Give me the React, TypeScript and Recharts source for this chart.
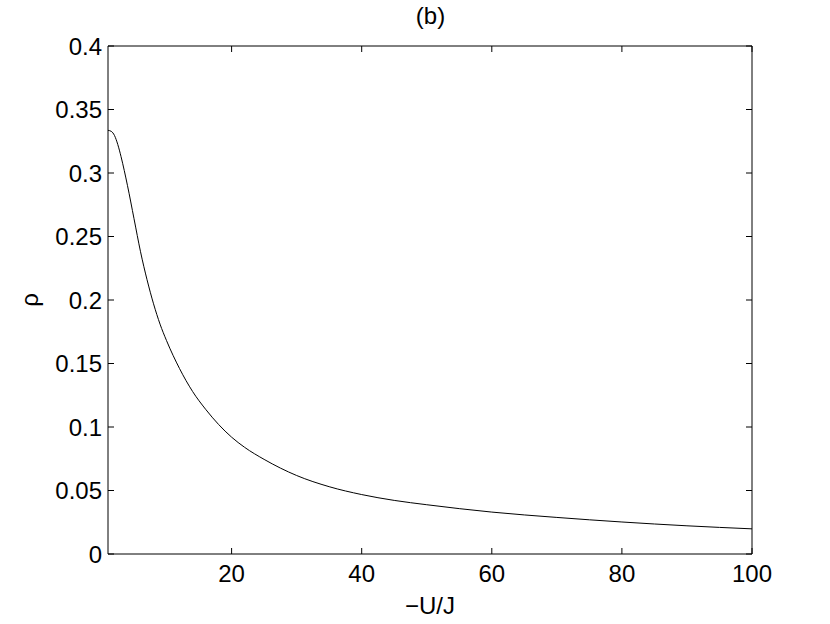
import { LineChart, Line, XAxis, YAxis } from 'recharts'

// -U/J values and the density
const uOverJ = [1, 1.5, 2, 2.5, 3, 3.5, 4, 5, 6, 7, 8, 9, 10, 12, 14, 16, 18, 20, 22, 25, 30, 35, 40, 45, 50, 60, 70, 80, 90, 100]
const rho = [
  0.3336, 0.3328, 0.3295, 0.3225, 0.313, 0.302, 0.29, 0.264, 0.238, 0.216,
  0.197, 0.181, 0.168, 0.146, 0.128, 0.114, 0.102, 0.092, 0.084, 0.0745,
  0.0618, 0.053, 0.0468, 0.0422, 0.0388, 0.033, 0.0288, 0.0252, 0.0222, 0.0198,
]
const xTicks = [20, 40, 60, 80, 100]
const yTicks = [0, 0.05, 0.1, 0.15, 0.2, 0.25, 0.3, 0.35, 0.4]

const data = uOverJ.map((u, i) => ({ u, rho: rho[i] }))

const font = 'Liberation Sans, Arial, Helvetica, sans-serif'
const FS = 24
const TICK = 6
const BOTTOM_GAP = 11
const LEFT_GAP = 6

// ticks point into the plot, matlab style; labels stay outside
// eslint-disable-next-line @typescript-eslint/no-explicit-any
function BottomTick({ x, y, payload }: any) {
  const axisY = y - BOTTOM_GAP
  return (
    <g>
      <line x1={x} x2={x} y1={axisY} y2={axisY - TICK} stroke="#000" />
      <text x={x} y={y} dy="0.72em" textAnchor="middle" fill="#000" fontSize={FS} fontFamily={font}>
        {payload.value}
      </text>
    </g>
  )
}

// eslint-disable-next-line @typescript-eslint/no-explicit-any
function LeftTick({ x, y, payload }: any) {
  const axisX = x + LEFT_GAP
  return (
    <g>
      <line x1={axisX} x2={axisX + TICK} y1={y} y2={y} stroke="#000" />
      <text x={x} y={y} dy="0.36em" textAnchor="end" fill="#000" fontSize={FS} fontFamily={font}>
        {payload.value}
      </text>
    </g>
  )
}

// eslint-disable-next-line @typescript-eslint/no-explicit-any
function TopTick({ x, y }: any) {
  return <line x1={x} x2={x} y1={y} y2={y + TICK} stroke="#000" />
}

// eslint-disable-next-line @typescript-eslint/no-explicit-any
function RightTick({ x, y }: any) {
  return <line x1={x - TICK} x2={x} y1={y} y2={y} stroke="#000" />
}

// eslint-disable-next-line @typescript-eslint/no-explicit-any
function RhoLabel({ viewBox }: any) {
  if (!viewBox) return null
  const cx = viewBox.x + 38
  const cy = viewBox.y + viewBox.height / 2
  return (
    <text
      x={cx}
      y={cy}
      transform={`rotate(-90 ${cx} ${cy})`}
      textAnchor="middle"
      fill="#000"
      fontSize={FS}
      fontFamily={font}
    >
      ρ
    </text>
  )
}

export default function App() {
  return (
    <div style={{ position: 'absolute', left: 0, top: 0, width: 830, height: 624, background: '#fff' }}>
      <div
        style={{
          position: 'absolute', left: 108, width: 645, top: 2, textAlign: 'center',
          fontFamily: font, fontSize: FS, color: '#000',
        }}
      >
        (b)
      </div>
      <LineChart width={830} height={624} data={data} margin={{ top: 45, right: 77, left: 0, bottom: 0 }}>
        <XAxis
          dataKey="u"
          type="number"
          domain={[1, 100]}
          allowDataOverflow
          ticks={xTicks}
          height={70}
          tick={<BottomTick />}
          tickLine={false}
          tickSize={0}
          tickMargin={BOTTOM_GAP}
          stroke="#000"
          label={{ value: '−U/J', position: 'insideBottom', offset: 10, fill: '#000', fontSize: FS, fontFamily: font }}
        />
        <XAxis
          xAxisId="top"
          orientation="top"
          dataKey="u"
          type="number"
          domain={[1, 100]}
          allowDataOverflow
          ticks={xTicks}
          height={1}
          tick={<TopTick />}
          tickLine={false}
          tickSize={0}
          tickMargin={0}
          stroke="#000"
        />
        <YAxis
          type="number"
          domain={[0, 0.4]}
          allowDataOverflow
          ticks={yTicks}
          width={108}
          tick={<LeftTick />}
          tickLine={false}
          tickSize={0}
          tickMargin={LEFT_GAP}
          stroke="#000"
          label={<RhoLabel />}
        />
        <YAxis
          yAxisId="right"
          orientation="right"
          type="number"
          domain={[0, 0.4]}
          allowDataOverflow
          ticks={yTicks}
          width={1}
          tick={<RightTick />}
          tickLine={false}
          tickSize={0}
          tickMargin={0}
          stroke="#000"
        />
        <Line
          type="monotone"
          dataKey="rho"
          stroke="#000"
          strokeWidth={1}
          dot={false}
          isAnimationActive={false}
        />
        <Line
          xAxisId="top"
          yAxisId="right"
          dataKey="rho"
          stroke="none"
          dot={false}
          legendType="none"
          isAnimationActive={false}
        />
      </LineChart>
    </div>
  )
}
